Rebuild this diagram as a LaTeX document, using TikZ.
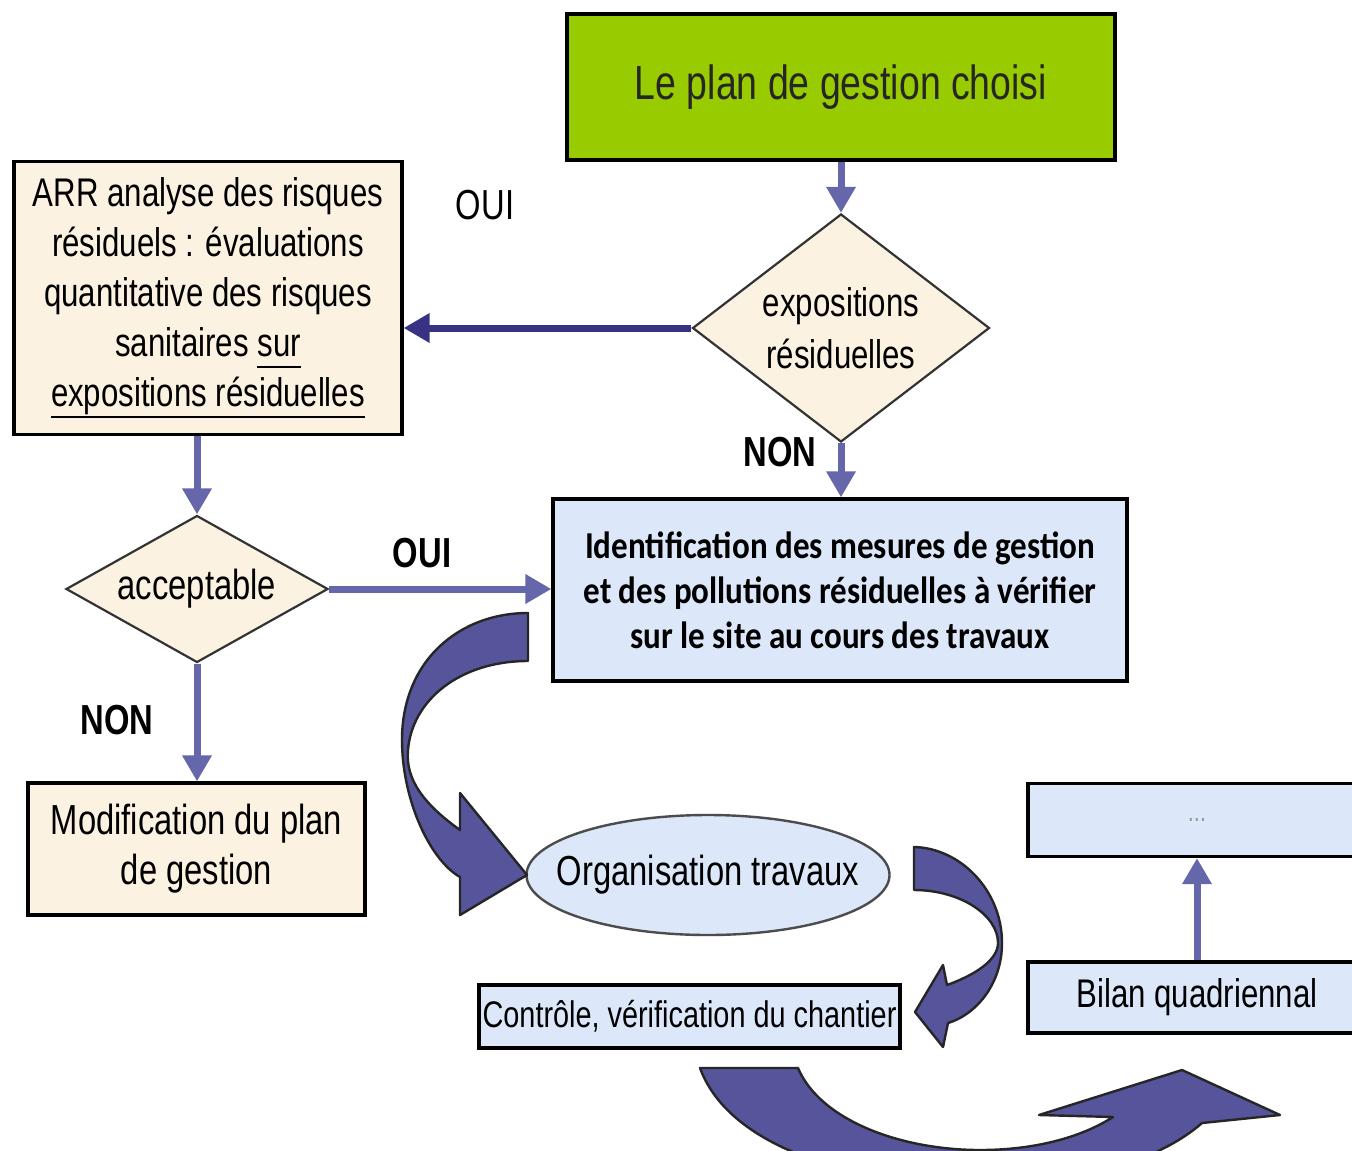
\documentclass[tikz,border=0pt]{standalone}
\usepackage{fontspec}
\setmainfont{Liberation Sans}[FakeStretch=0.78]
\newfontfamily\calibri{Carlito}[FakeStretch=0.87]
\usepackage{tikz}
\usetikzlibrary{backgrounds,shapes.geometric,arrows.meta}
\usepackage{xcolor}
\definecolor{titelgruen}{RGB}{153,204,0}
\definecolor{creme}{RGB}{252,242,226}
\definecolor{hellblau}{RGB}{220,232,250}
\definecolor{pfeilblau}{RGB}{102,102,170}
\definecolor{dunkelblau}{RGB}{55,50,130}
\definecolor{bandblau}{RGB}{86,84,154}
\newcommand{\unterstr}[1]{\setbox0\hbox{#1}\rlap{\rule[-5.5pt]{\wd0}{1.2pt}}\box0}

\begin{document}
\begin{tikzpicture}[x=0.5pt, y=-0.5pt,
		>={Triangle[width=14pt,length=13pt]},   %Pfeilspitzen
		kasten/.style={draw=black, line width=1.6pt, inner sep=0pt, align=center},
		raute/.style={diamond, draw=black!80, line width=1.1pt, fill=creme, inner sep=0pt, align=center},
		pfeil/.style={->, line width=3.5pt, draw=pfeilblau},
		marke/.style={font=\fontsize{21}{25}\selectfont\bfseries},
		band/.style={fill=bandblau, draw=black!85, line width=1.2pt, line join=round}]
		\useasboundingbox (0,0) rectangle (1352,1150);
		\begin{scope}[on background layer]
			\fill[white] (0,0) rectangle (1352,1150);
		\end{scope}
		\clip (0,0) rectangle (1352,1150); %Bildbereich
		% Kaesten
		\node[kasten, fill=titelgruen, minimum width=274pt, minimum height=73pt, font=\fontsize{24}{29}\selectfont, text=black!85] (plan) at (841,87) {Le plan de gestion choisi};
		\node[raute, aspect=1.3, minimum width=148.5pt, minimum height=114pt, font=\fontsize{20}{26}\selectfont] (expo) at (841,328) {expositions\\résiduelles};
		\node[kasten, fill=creme, minimum width=194pt, minimum height=136.5pt, font=\fontsize{20}{25}\selectfont] (arr) at (208,298) {ARR analyse des risques\\résiduels : évaluations\\quantitative des risques\\sanitaires \unterstr{sur}\\\unterstr{expositions résiduelles}};
		\node[kasten, fill=hellblau, minimum width=287pt, minimum height=91pt, font=\calibri\fontsize{19}{22.5}\selectfont\bfseries] (ident) at (840,590) {Identification des mesures de gestion\\et des pollutions résiduelles à vérifier\\sur le site au cours des travaux};
		\node[raute, aspect=2, minimum width=131pt, minimum height=73.5pt, font=\fontsize{21}{25}\selectfont] (accept) at (197,589) {acceptable};
		\node[kasten, fill=creme, minimum width=168.5pt, minimum height=66pt, font=\fontsize{21}{25}\selectfont] (modif) at (196.5,849) {Modification du plan\\de gestion};
		\node[ellipse, draw=black!70, line width=1.2pt, fill=hellblau, minimum width=181.5pt, minimum height=60pt, inner sep=0pt, font=\fontsize{21}{25}\selectfont] (orga) at (708,875) {\makebox[0pt]{Organisation travaux}};
		\node[kasten, fill=hellblau, minimum width=210.5pt, minimum height=31.5pt, font=\fontsize{18.5}{22}\selectfont] (ctrl) at (689.5,1016.5) {Contrôle, vérification du chantier};
		\node[kasten, fill=hellblau, minimum width=169pt, minimum height=36.5pt, font=\fontsize{14}{16}\selectfont, text=black!40] (suite) at (1197,820) {...};
		\node[kasten, fill=hellblau, minimum width=169pt, minimum height=35.5pt, font=\fontsize{20}{24}\selectfont] (bilan) at (1197,997.5) {Bilan quadriennal};
		% Beschriftung
		\node[font=\fontsize{21}{25}\selectfont] (oui1) at (485,205) {OUI};
		\node[marke] (non1) at (780,452) {NON};
		\node[marke] (oui2) at (422,553) {OUI};
		\node[marke] (non2) at (117,720) {NON};
		% Verbindungen
		\draw[pfeil] (plan) -- (expo);
		\draw[pfeil, draw=dunkelblau] (expo.west) -- (expo.west -| arr.east);
		\draw[pfeil] (expo.south) -- (expo.south |- ident.north);
		\draw[pfeil] (arr.south -| accept.north) -- (accept.north);
		\draw[pfeil] (accept.east) -- (accept.east -| ident.west);
		\draw[pfeil] (accept.south) -- (modif.north -| accept.south);
		\draw[pfeil] (bilan) -- (suite);
		% Kreislauf-Pfeile
		\draw[band] (528,613) .. controls (460,613) and (402,660) .. (402,740) .. controls (402,800) and (430,860) .. (460,877) -- (460,915) -- (527,875) -- (460,793) -- (460,830) .. controls (425,805) and (405,780) .. (408,750) .. controls (412,700) and (460,661) .. (528,661) -- cycle;
		\draw[band] (914,847) .. controls (960,848) and (1002,890) .. (1002,943) .. controls (1002,985) and (975,1015) .. (948,1023) -- (943,1047) -- (915,1012) -- (943,965) -- (947,985) .. controls (975,975) and (998,960) .. (998,943) .. controls (998,915) and (960,890) .. (914,890) -- cycle;
		\draw[band] (700,1068) -- (798,1068) .. controls (820,1120) and (900,1150) .. (980,1150) .. controls (1040,1150) and (1085,1135) .. (1113,1117) -- (1039,1115) -- (1182,1070) -- (1280,1115) -- (1202,1123) .. controls (1160,1160) and (1080,1185) .. (980,1185) .. controls (860,1185) and (730,1150) .. (700,1068) -- cycle;
	\end{tikzpicture}
\end{document}
